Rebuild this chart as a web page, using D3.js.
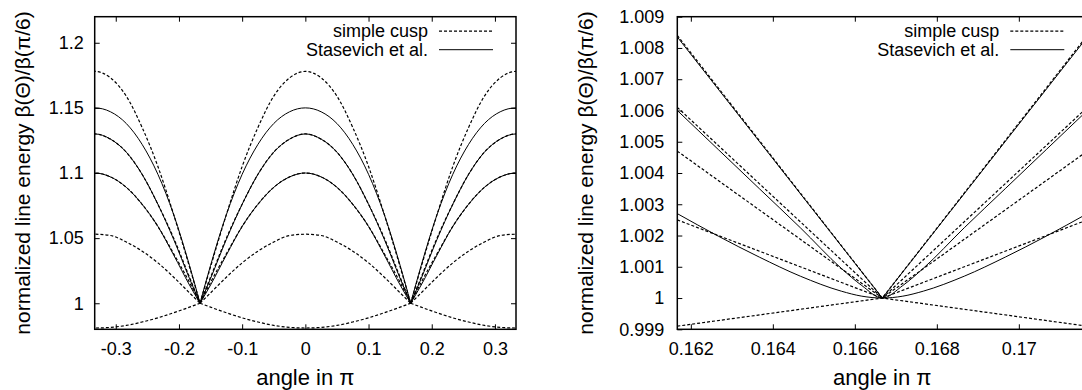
<!DOCTYPE html>
<html>
<head>
<meta charset="utf-8">
<script src="https://cdn.jsdelivr.net/npm/d3@7"></script>
<style>
  body { margin: 0; background: #fff; }
  svg { display: block; font-family: "Liberation Sans", Arial, Helvetica, sans-serif; }
</style>
</head>
<body>
<svg id="chart" width="1082" height="390"></svg>
<script>
// left panel: one arch of every curve, sampled at the distance from the arch centre (angle in π)
const archOffsets = [0, 0.025, 0.05, 0.075, 0.1, 0.125, 0.15, 0.16667];
const archCentres = [-0.33333, 0, 0.33333];

const simpleCuspArches = [
    [1.178, 1.173, 1.159, 1.135, 1.105, 1.068, 1.028, 1.0],
    [1.130, 1.126, 1.116, 1.099, 1.076, 1.050, 1.020, 1.0],
    [1.100, 1.097, 1.089, 1.076, 1.059, 1.038, 1.016, 1.0],
    [1.053, 1.052, 1.047, 1.040, 1.031, 1.020, 1.008, 1.0],
    [0.981, 0.9815, 0.983, 0.9856, 0.9888, 0.9927, 0.997, 1.0]
];

const stasevichArches = [
    [1.150, 1.147, 1.138, 1.122, 1.099, 1.068, 1.029, 1.0],
    [1.130, 1.126, 1.116, 1.099, 1.076, 1.049, 1.019, 1.0],
    [1.100, 1.097, 1.089, 1.076, 1.059, 1.037, 1.014, 1.0]
];

// right panel: close-up of the cusp at π/6, [distance from cusp, value]
const cuspAngle = 0.16667;

const zoomSimpleCusp = [
    [[0, 1], [0.005, 1.0084]],
    [[0, 1], [0.005, 1.0061]],
    [[0, 1], [0.005, 1.0047]],
    [[0, 1], [0.005, 1.0025]],
    [[0, 1], [0.005, 0.9991]]
];

const zoomStasevich = [
    [[0, 1], [0.005, 1.00835]],
    [[0, 1], [0.0005, 1.0004], [0.001, 1.00095], [0.002, 1.00225], [0.003, 1.0035], [0.004, 1.00475], [0.005, 1.006]],
    [[0, 1], [0.0005, 1.00006], [0.001, 1.00022], [0.002, 1.0007], [0.003, 1.00131], [0.004, 1.00198], [0.005, 1.0027]]
];

const leftXTicks = [-0.3, -0.2, -0.1, 0, 0.1, 0.2, 0.3];
const leftYTicks = [1, 1.05, 1.1, 1.15, 1.2];
const rightXTicks = [0.162, 0.164, 0.166, 0.168, 0.17];
const rightYTicks = [0.999, 1, 1.001, 1.002, 1.003, 1.004, 1.005, 1.006, 1.007, 1.008, 1.009];
const legendLabels = ['simple cusp', 'Stasevich et al.'];
const xTitle = 'angle in π';
const yTitle = 'normalized line energy β(Θ)/β(π/6)';

const svg = d3.select('#chart');
svg.append('rect').attr('width', 1082).attr('height', 390).attr('fill', '#fff');

const TOP = 16.7, BOTTOM = 329.3;
const DASH = '3,2';
const fmt = d => String(+d.toFixed(4));

function archPoints(centre, values) {
    const pts = [];
    for (let i = archOffsets.length - 1; i > 0; i--) pts.push([centre - archOffsets[i], values[i]]);
    pts.push([centre, values[0]]);
    for (let i = 1; i < archOffsets.length; i++) pts.push([centre + archOffsets[i], values[i]]);
    return pts;
}

function cuspPoints(pairs) {
    const pts = [];
    for (let i = pairs.length - 1; i > 0; i--) pts.push([cuspAngle - pairs[i][0], pairs[i][1]]);
    pts.push([cuspAngle, pairs[0][1]]);
    for (let i = 1; i < pairs.length; i++) pts.push([cuspAngle + pairs[i][0], pairs[i][1]]);
    return pts;
}

function drawPanel(p) {
    const x = d3.scaleLinear().domain(p.xDomain).range([p.left, p.right]);
    const y = d3.scaleLinear().domain(p.yDomain).range([BOTTOM, TOP]);
    const g = svg.append('g');

    g.append('clipPath').attr('id', 'clip-' + p.id)
        .append('rect')
        .attr('x', p.left).attr('y', TOP)
        .attr('width', p.right - p.left).attr('height', BOTTOM - TOP);

    const plot = g.append('g').attr('clip-path', `url(#clip-${p.id})`);
    const line = d3.line().x(d => x(d[0])).y(d => y(d[1]));

    // dashed curves under the solid ones
    plot.selectAll('path.cusp')
        .data(p.dashed)
        .enter().append('path')
        .attr('class', 'cusp')
        .attr('d', d => line.curve(d.length > 3 ? d3.curveMonotoneX : d3.curveLinear)(d))
        .attr('fill', 'none')
        .attr('stroke', '#000')
        .attr('stroke-width', 1.2)
        .attr('stroke-dasharray', DASH);

    plot.selectAll('path.stas')
        .data(p.solid)
        .enter().append('path')
        .attr('class', 'stas')
        .attr('d', d => line.curve(d.length > 3 ? d3.curveMonotoneX : d3.curveLinear)(d))
        .attr('fill', 'none')
        .attr('stroke', '#000')
        .attr('stroke-width', 1);

    // axes with inward ticks on all four sides
    const styleAxis = sel => {
        sel.select('.domain').remove();
        sel.selectAll('line').attr('stroke', '#000').attr('stroke-width', 1);
        sel.selectAll('text').attr('fill', '#000').attr('font-size', 18)
            .attr('font-family', '"Liberation Sans", Arial, Helvetica, sans-serif');
    };

    g.append('g').attr('transform', `translate(0,${BOTTOM})`)
        .call(d3.axisBottom(x).tickValues(p.xTicks).tickSizeInner(-5).tickSizeOuter(0)
            .tickPadding(13).tickFormat(fmt))
        .call(styleAxis);
    g.append('g').attr('transform', `translate(0,${TOP})`)
        .call(d3.axisTop(x).tickValues(p.xTicks).tickSizeInner(-5).tickSizeOuter(0).tickFormat(''))
        .call(styleAxis);
    g.append('g').attr('transform', `translate(${p.left},0)`)
        .call(d3.axisLeft(y).tickValues(p.yTicks).tickSizeInner(-5).tickSizeOuter(0)
            .tickPadding(p.yPad).tickFormat(fmt))
        .call(styleAxis);
    g.append('g').attr('transform', `translate(${p.right},0)`)
        .call(d3.axisRight(y).tickValues(p.yTicks).tickSizeInner(-5).tickSizeOuter(0).tickFormat(''))
        .call(styleAxis);

    g.append('rect')
        .attr('x', p.left).attr('y', TOP)
        .attr('width', p.right - p.left).attr('height', BOTTOM - TOP)
        .attr('fill', 'none')
        .attr('stroke', '#000')
        .attr('stroke-width', 1.5);

    // key
    const key = g.append('g');
    legendLabels.forEach((label, i) => {
        const ly = TOP + 14.5 + i * 18.5;
        key.append('text')
            .attr('x', p.right - 88).attr('y', ly + 6)
            .attr('text-anchor', 'end')
            .attr('font-size', 18)
            .text(label);
        key.append('line')
            .attr('x1', p.right - 77).attr('x2', p.right - 23)
            .attr('y1', ly).attr('y2', ly)
            .attr('stroke', '#000')
            .attr('stroke-width', i === 0 ? 1.2 : 1)
            .attr('stroke-dasharray', i === 0 ? DASH : null);
    });

    g.append('text')
        .attr('x', (p.left + p.right) / 2).attr('y', 385)
        .attr('text-anchor', 'middle')
        .attr('font-size', 22)
        .text(xTitle);

    g.append('text')
        .attr('transform', `translate(${p.titleX},${(TOP + BOTTOM) / 2}) rotate(-90)`)
        .attr('text-anchor', 'middle')
        .attr('font-size', 21)
        .text(yTitle);
}

const leftDashed = [];
simpleCuspArches.forEach(v => archCentres.forEach(c => leftDashed.push(archPoints(c, v))));
const leftSolid = [];
stasevichArches.forEach(v => archCentres.forEach(c => leftSolid.push(archPoints(c, v))));

drawPanel({
    id: 'left',
    left: 94.7, right: 516,
    xDomain: [-0.33333, 0.33333], yDomain: [0.98, 1.22],
    xTicks: leftXTicks, yTicks: leftYTicks,
    yPad: 11, titleX: 30,
    dashed: leftDashed, solid: leftSolid
});

drawPanel({
    id: 'right',
    left: 677.3, right: 1087.3,
    xDomain: [cuspAngle - 0.005, cuspAngle + 0.005], yDomain: [0.999, 1.009],
    xTicks: rightXTicks, yTicks: rightYTicks,
    yPad: 13, titleX: 593,
    dashed: zoomSimpleCusp.map(cuspPoints), solid: zoomStasevich.map(cuspPoints)
});
</script>
</body>
</html>
